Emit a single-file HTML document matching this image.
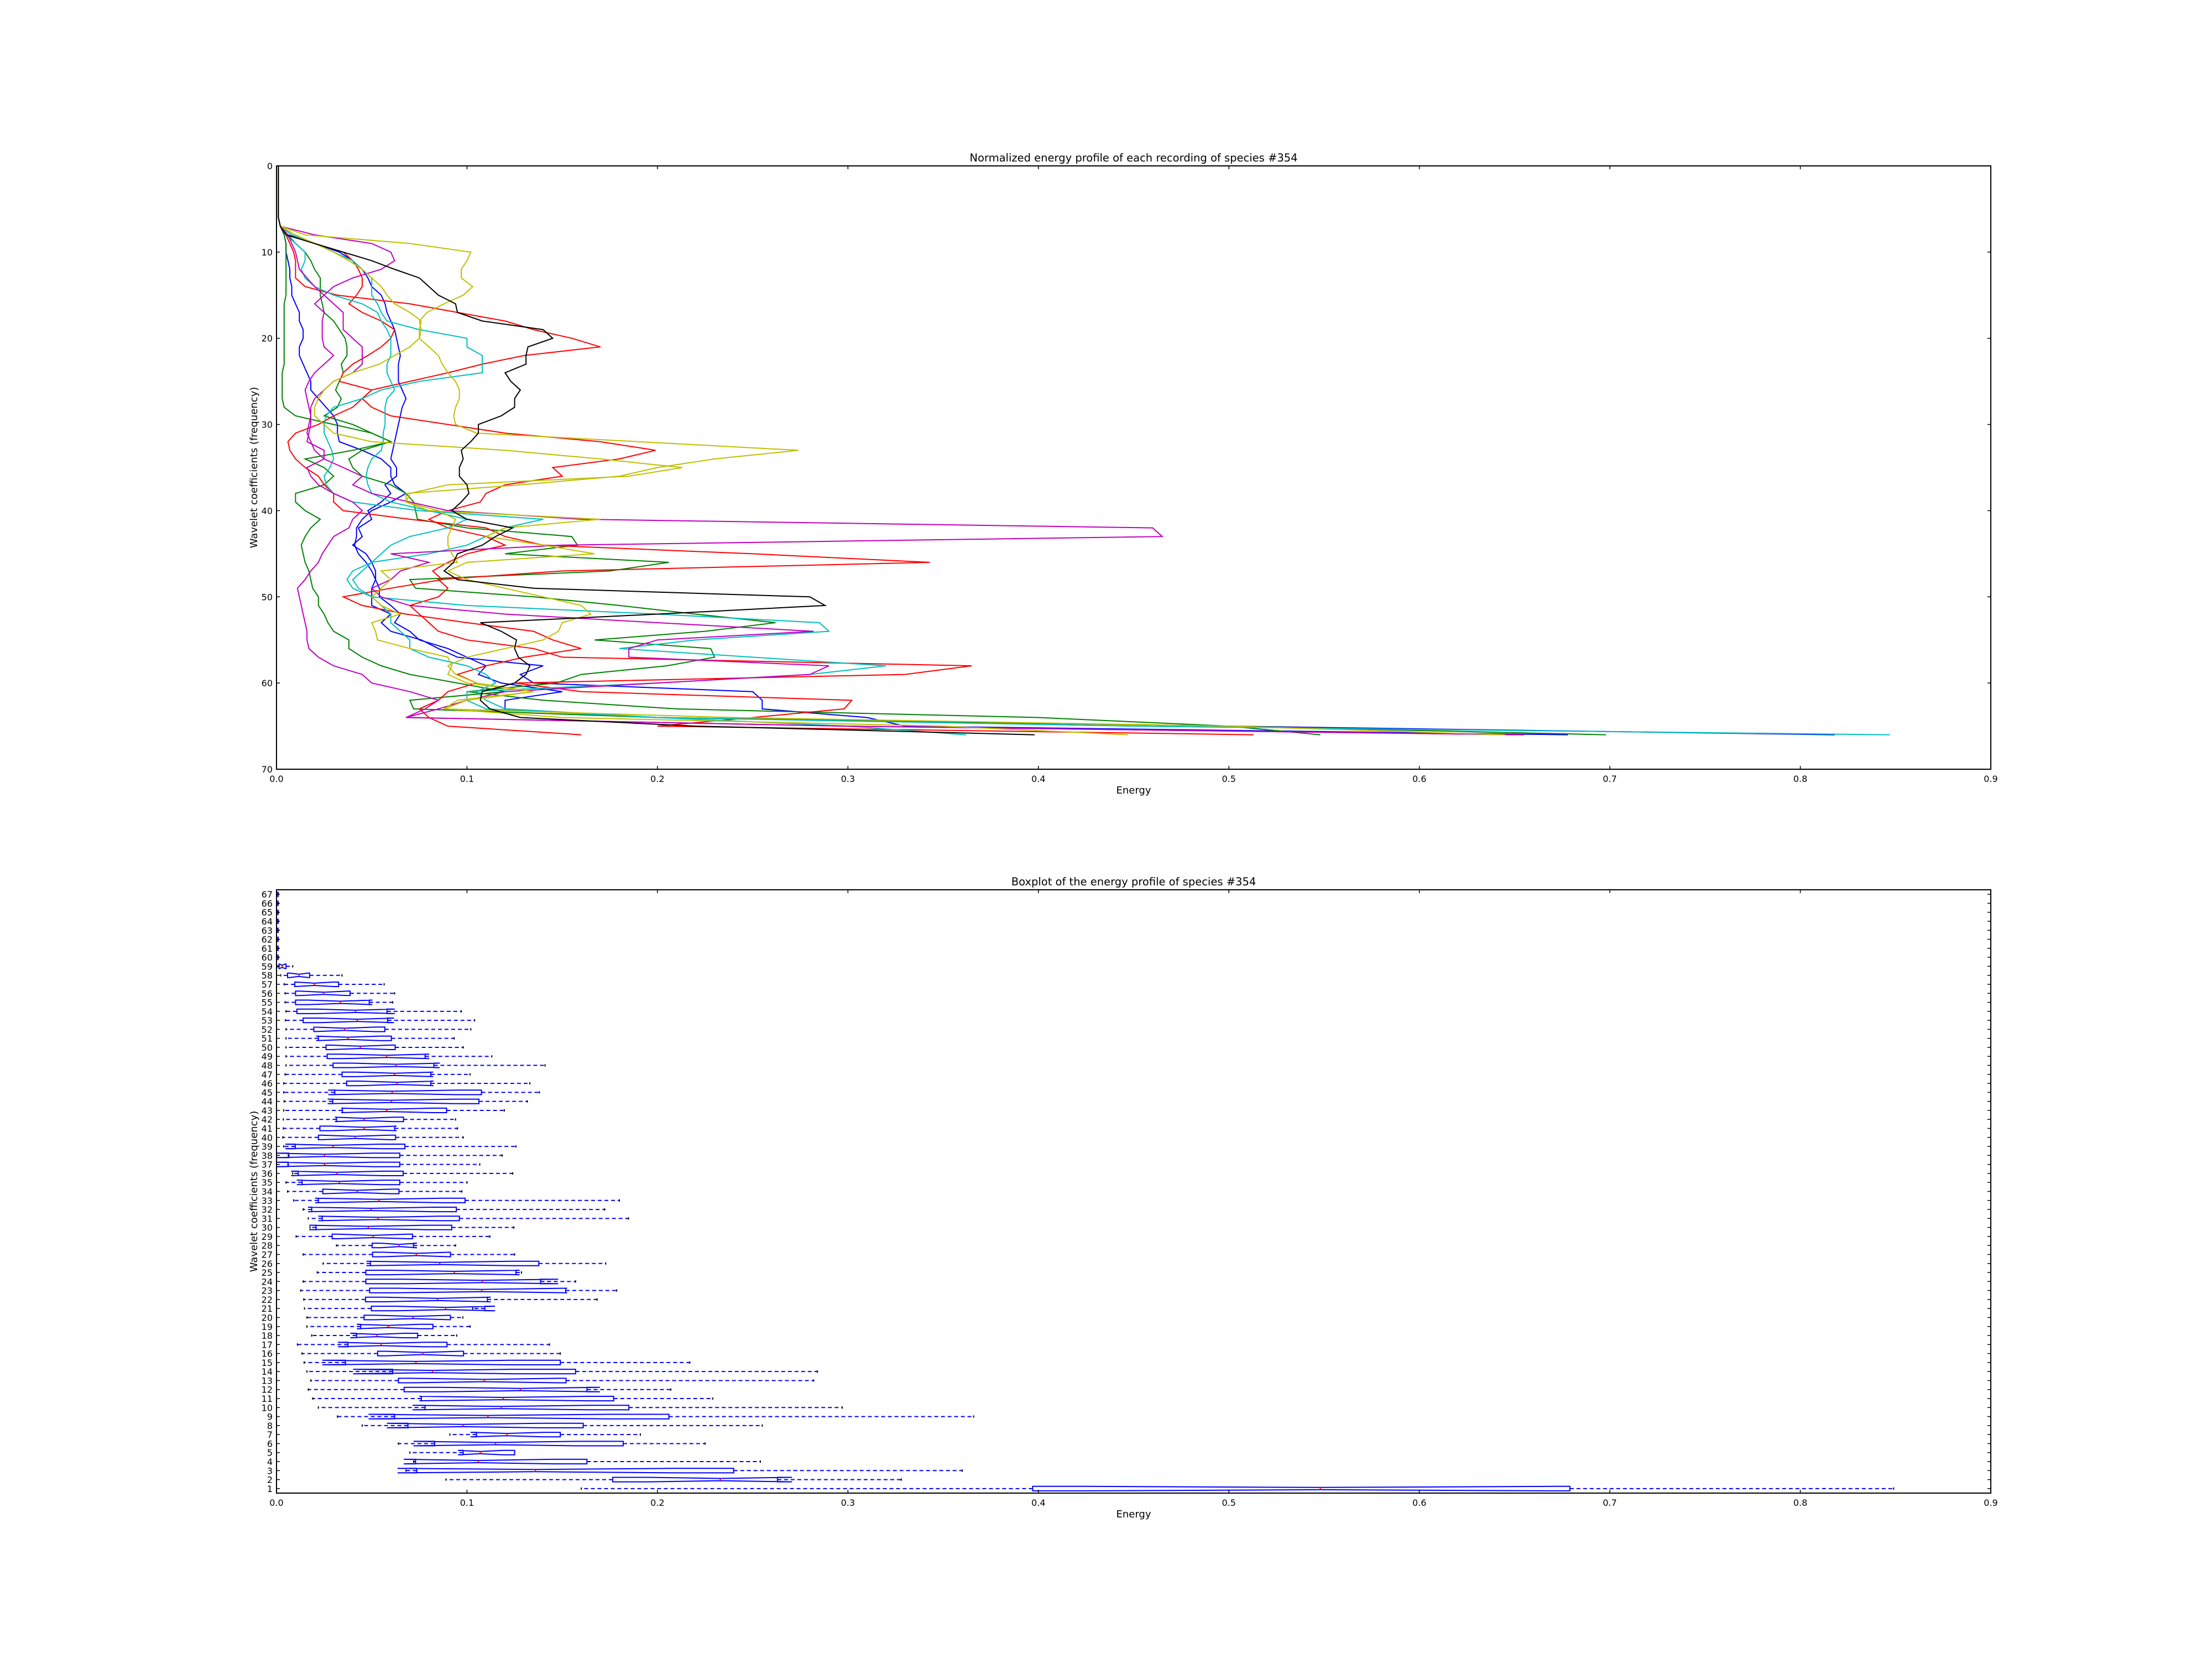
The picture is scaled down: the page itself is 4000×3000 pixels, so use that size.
<!DOCTYPE html>
<html><head><meta charset="utf-8"><style>
html,body{margin:0;padding:0;background:#fff;}
svg{display:block;font-family:"DejaVu Sans","Liberation Sans",sans-serif;}
</style></head><body>
<svg id="fig" width="4000" height="3000" viewBox="0 0 4000 3000" xmlns="http://www.w3.org/2000/svg">
<rect width="4000" height="3000" fill="#fff"/>
<g id="top"></g>
<g id="bot"></g>
</svg>
<script>
// ---------- Top chart data ----------
const lineColors = ['#0000ff','#0000ff','#008000','#008000','#ff0000','#ff0000','#00bfbf','#00bfbf','#bf00bf','#bf00bf','#bfbf00','#bfbf00','#000000'];
const seriesNames = ['blue-1','blue-2','green-1','green-2','red-1','red-2','cyan-1','cyan-2','magenta-1','magenta-2','yellow-1','yellow-2','black-1'];
const pre = [.001,.001,.001,.001,.001,.001,.001,.002];
const b1 = pre.concat([.004,.005,.005,.006,.007,.007,.008,.008,.01,.012,.012,.014,.014,.012,.012,.014,.016,.018,.018,.022,.026,.03,.032,.032,.033,.045,.055,.06,.06,.062,.068,.06,.05,.045,.042,.042,.041,.043,.047,.05,.052,.054,.054,.06,.065,.062,.07,.075,.09,.1,.11,.106,.118,.15,.12,.12,.2,.5,.818]);
const b2 = pre.concat([.006,.02,.033,.04,.045,.048,.05,.055,.057,.058,.06,.062,.063,.064,.065,.064,.064,.064,.066,.068,.066,.065,.064,.063,.062,.061,.06,.063,.063,.057,.06,.055,.048,.05,.043,.045,.04,.047,.05,.052,.052,.05,.05,.05,.06,.055,.06,.076,.085,.095,.14,.128,.135,.25,.255,.255,.31,.33,.678]);
const g1 = pre.concat([.004,.005,.005,.005,.005,.005,.005,.005,.004,.004,.004,.004,.004,.004,.004,.004,.003,.003,.003,.003,.004,.01,.03,.05,.06,.04,.015,.025,.03,.025,.01,.01,.015,.023,.018,.015,.013,.014,.015,.017,.018,.019,.022,.022,.025,.027,.03,.038,.038,.045,.055,.07,.095,.12,.07,.072,.2,.5,.698]);
const g2 = pre.concat([.006,.01,.015,.018,.02,.023,.023,.023,.024,.025,.03,.033,.036,.037,.037,.034,.035,.033,.031,.034,.032,.025,.04,.05,.06,.045,.038,.04,.045,.06,.068,.072,.073,.074,.1,.155,.158,.12,.206,.175,.07,.073,.135,.18,.22,.262,.225,.167,.228,.23,.205,.16,.147,.1,.14,.21,.4,.5,.548]);
const r1 = pre.concat([.005,.007,.009,.01,.01,.01,.015,.032,.07,.095,.12,.135,.155,.17,.13,.108,.09,.07,.05,.045,.04,.03,.022,.01,.006,.007,.01,.015,.022,.025,.03,.03,.035,.07,.11,.12,.14,.25,.343,.15,.085,.09,.085,.07,.075,.08,.085,.1,.135,.15,.365,.33,.125,.16,.302,.298,.25,.2,.513]);
const r2 = pre.concat([.008,.02,.035,.04,.043,.045,.045,.042,.038,.045,.055,.062,.06,.055,.048,.04,.035,.033,.05,.045,.05,.06,.09,.12,.17,.199,.18,.145,.15,.12,.11,.107,.09,.08,.09,.11,.12,.1,.09,.082,.087,.06,.035,.045,.068,.1,.135,.145,.16,.13,.11,.095,.105,.09,.085,.075,.08,.09,.16]);
const c1 = pre.concat([.008,.02,.03,.04,.045,.05,.05,.05,.053,.055,.058,.075,.1,.1,.108,.108,.108,.075,.055,.045,.03,.026,.025,.025,.027,.029,.03,.028,.025,.026,.03,.04,.075,.14,.12,.11,.1,.08,.05,.04,.037,.04,.05,.1,.2,.285,.29,.22,.18,.25,.32,.28,.2,.1,.1,.11,.2,.45,.847]);
const c2 = pre.concat([.005,.01,.015,.015,.013,.015,.02,.03,.045,.053,.055,.058,.06,.06,.06,.058,.058,.06,.062,.058,.057,.057,.057,.056,.056,.055,.05,.048,.047,.048,.05,.06,.08,.1,.09,.07,.06,.055,.05,.045,.04,.043,.05,.055,.06,.06,.065,.07,.07,.08,.1,.11,.115,.105,.11,.12,.2,.3,.362]);
const m1 = pre.concat([.02,.05,.06,.062,.055,.04,.03,.025,.02,.025,.024,.024,.024,.025,.03,.025,.02,.017,.015,.016,.017,.018,.017,.016,.018,.02,.025,.035,.045,.04,.05,.07,.09,.16,.46,.465,.15,.06,.08,.065,.06,.05,.055,.07,.12,.2,.282,.2,.185,.185,.29,.28,.2,.12,.1,.085,.068,.3,.655]);
const m2 = pre.concat([.006,.008,.01,.011,.012,.016,.02,.025,.03,.035,.035,.035,.04,.045,.045,.045,.04,.03,.025,.02,.018,.018,.018,.017,.016,.025,.025,.016,.018,.022,.03,.04,.045,.04,.038,.03,.027,.024,.022,.018,.015,.011,.012,.013,.014,.015,.016,.016,.017,.022,.03,.045,.05,.07,.085,.078,.068,.3,.65]);
const y1 = pre.concat([.015,.07,.102,.1,.097,.097,.103,.098,.088,.079,.075,.076,.075,.08,.085,.087,.09,.094,.096,.096,.094,.093,.094,.105,.19,.274,.23,.2,.18,.128,.068,.068,.08,.17,.12,.11,.14,.167,.1,.09,.1,.12,.14,.16,.165,.15,.148,.14,.12,.1,.09,.094,.105,.135,.1,.088,.15,.35,.447]);
const y2 = pre.concat([.01,.02,.03,.038,.045,.05,.055,.058,.062,.07,.076,.075,.075,.07,.062,.054,.04,.03,.025,.022,.02,.02,.025,.03,.05,.12,.17,.213,.185,.09,.07,.068,.085,.094,.092,.09,.09,.092,.095,.055,.06,.055,.05,.055,.065,.05,.052,.053,.07,.09,.092,.09,.1,.135,.095,.088,.239,.5,.645]);
const k1 = pre.concat([.005,.02,.035,.05,.062,.075,.08,.085,.094,.095,.108,.14,.145,.132,.131,.131,.12,.123,.128,.125,.125,.118,.106,.106,.102,.097,.098,.096,.096,.1,.101,.097,.092,.1,.124,.115,.108,.095,.093,.088,.095,.135,.28,.288,.2,.107,.118,.126,.125,.127,.133,.131,.125,.108,.107,.112,.128,.22,.398]);
const allSeries = [b1,b2,g1,g2,r1,r2,c1,c2,m1,m2,y1,y2,k1];
const xTickVals = [0,0.1,0.2,0.3,0.4,0.5,0.6,0.7,0.8,0.9];
const xTickLabels = ['0.0','0.1','0.2','0.3','0.4','0.5','0.6','0.7','0.8','0.9'];
const topYTicks = [0,10,20,30,40,50,60,70];

// ---------- Boxplot data (rows 1..67) ----------
const rows = Array.from({length:67},(_,i)=>i+1);
const wLo = [.16,.089,.068,.072,.07,.064,.091,.045,.032,.022,.019,.0167,.018,.016,.0145,.0134,.011,.0185,.016,.016,.0147,.0143,.0127,.014,.0214,.0245,.014,.0315,.0103,.0176,.0167,.014,.009,.0058,.005,.0085,.006,.0062,.0038,.0033,.0036,.0036,.0038,.004,.0038,.0038,.0045,.005,.005,.005,.005,.005,.0047,.005,.0045,.0045,.004,.0022,.0005,0,0,0,0,0,0,0,0];
const q1 = [.397,.1765,.0736,.073,.098,.083,.105,.069,.062,.078,.076,.067,.064,.061,.0362,.0531,.0375,.042,.0442,.046,.0498,.0467,.0489,.0469,.0469,.0493,.0504,.0502,.0292,.0208,.024,.0185,.022,.0243,.0134,.0114,.0062,.0065,.0098,.022,.0228,.0315,.0346,.0295,.0306,.0368,.0344,.0297,.0266,.026,.022,.0196,.014,.0107,.01,.01,.0096,.0058,.0013,0,0,0,0,0,0,0,0];
const med = [.548,.233,.136,.106,.107,.115,.121,.098,.111,.118,.119,.128,.109,.082,.0732,.0768,.0549,.0527,.0587,.0717,.0888,.0846,.1078,.108,.0933,.0857,.0734,.0643,.0507,.0482,.0533,.0496,.0538,.0424,.033,.0317,.0252,.0252,.0297,.0413,.046,.046,.0578,.0603,.0607,.0632,.062,.0627,.0578,.044,.0375,.0357,.0424,.0415,.0335,.0248,.0199,.0118,.003,.0004,.0004,.0004,.0004,.0004,.0004,.0004,.0004];
const q3 = [.679,.263,.24,.163,.125,.182,.149,.161,.206,.185,.177,.163,.152,.157,.149,.0982,.0895,.0741,.0821,.0913,.1094,.1107,.1518,.1386,.1257,.1377,.0913,.0719,.0714,.092,.096,.0944,.099,.0643,.0647,.0665,.0647,.0647,.0674,.0625,.062,.0667,.0893,.1063,.1076,.081,.081,.0826,.078,.0623,.0603,.0569,.0583,.058,.0487,.0386,.0326,.0174,.005,.0008,.0008,.0008,.0008,.0008,.0008,.0008,.0008];
const wHi = [.849,.328,.36,.254,.125,.225,.191,.255,.366,.297,.229,.207,.282,.284,.217,.149,.1433,.0946,.1016,.0978,.103,.1683,.1786,.157,.1286,.1728,.125,.094,.112,.1246,.1848,.1723,.18,.0973,.1,.124,.1067,.1185,.1257,.098,.095,.094,.1196,.1317,.138,.133,.1016,.141,.113,.098,.0933,.102,.104,.097,.061,.062,.0565,.0344,.0085,.001,.001,.001,.001,.001,.001,.001,.001];
const sampleN = 13;

const NS='http://www.w3.org/2000/svg';
function mk(tag, parent, attrs){const e=document.createElementNS(NS,tag);for(const k in attrs)e.setAttribute(k,attrs[k]);parent.appendChild(e);return e;}
const FS=16, LFS=18, TFS=19.5;

function axesFrame(g, L, T, R, B, xs, ys, yticks, ylabels, title, name){
  xTickVals.forEach((v,i)=>{
    const x=xs(v);
    const t1=mk('line',g,{x1:x,x2:x,y1:B,y2:B-6,stroke:'#000','stroke-width':1.5});
    
    
    mk('line',g,{x1:x,x2:x,y1:T,y2:T+6,stroke:'#000','stroke-width':1.5});
    const tx=mk('text',g,{x:x,y:B+23,'font-size':FS,'text-anchor':'middle',fill:'#000'});
    tx.textContent=xTickLabels[i];
    
    
  });
  yticks.forEach((v,i)=>{
    const y=ys(v);
    const t1=mk('line',g,{x1:L,x2:L+6,y1:y,y2:y,stroke:'#000','stroke-width':1.5});
    
    
    mk('line',g,{x1:R,x2:R-6,y1:y,y2:y,stroke:'#000','stroke-width':1.5});
    const tx=mk('text',g,{x:L-7,y:y+6,'font-size':FS,'text-anchor':'end',fill:'#000'});
    tx.textContent=ylabels[i];
    
    
  });
  const fr=mk('rect',g,{x:L,y:T,width:R-L,height:B-T,fill:'none',stroke:'#000','stroke-width':2});
  
  
  const tt=mk('text',g,{x:(L+R)/2,y:T-8,'font-size':TFS,'text-anchor':'middle',fill:'#000'});
  tt.textContent=title;
  
  
  const xl=mk('text',g,{x:(L+R)/2,y:B+44,'font-size':LFS,'text-anchor':'middle',fill:'#000'});
  xl.textContent='Energy';
  
  
  const yl=mk('text',g,{x:0,y:0,'font-size':LFS,'text-anchor':'middle',fill:'#000',transform:`translate(${L-35},${(T+B)/2}) rotate(-90)`});
  yl.textContent='Wavelet coefficients (frequency)';
  
  
}

// ---------- Top chart ----------
(function(){
  const g=document.getElementById('top');
  const L=500,R=3600,T=300,B=1391;
  const xs=v=>L+(v/0.9)*(R-L);
  const ys=c=>T+(c/70)*(B-T);
  const plot=mk('g',g,{});
  
  
  allSeries.forEach((s,si)=>{
    const pts=s.map((v,i)=>xs(v).toFixed(1)+','+ys(i).toFixed(1)).join(' ');
    const pl=mk('polyline',plot,{points:pts,fill:'none',stroke:lineColors[si],'stroke-width':2,'stroke-linejoin':'miter'});
    
    
  });
  axesFrame(g,L,T,R,B,xs,ys,topYTicks,topYTicks.map(String),'Normalized energy profile of each recording of species #354','top-chart');
})();

// ---------- Bottom chart ----------
(function(){
  const g=document.getElementById('bot');
  const L=500,R=3600,T=1609,B=2700;
  const xs=v=>L+(v/0.9)*(R-L);
  const ys=r=>B-((r-0.5)/67)*(B-T);
  const w=0.5;
  const plot=mk('g',g,{});
  
  
  rows.forEach((r,i)=>{
    const iqr=q3[i]-q1[i];
    const nh=1.57*iqr/Math.sqrt(sampleN);
    const nlo=med[i]-nh, nhi=med[i]+nh;
    const yc=ys(r), hb=(ys(r-w/2)-ys(r+w/2))/2, hq=hb/2;
    const bg=mk('g',plot,{});
    
    
    mk('line',bg,{x1:xs(q1[i]),x2:xs(wLo[i]),y1:yc,y2:yc,stroke:'#0000ff','stroke-width':2,'stroke-dasharray':'7,5'});
    mk('line',bg,{x1:xs(q3[i]),x2:xs(wHi[i]),y1:yc,y2:yc,stroke:'#0000ff','stroke-width':2,'stroke-dasharray':'7,5'});
    mk('line',bg,{x1:xs(wLo[i]),x2:xs(wLo[i]),y1:yc-hq,y2:yc+hq,stroke:'#000','stroke-width':2});
    mk('line',bg,{x1:xs(wHi[i]),x2:xs(wHi[i]),y1:yc-hq,y2:yc+hq,stroke:'#000','stroke-width':2});
    const P=[[q1[i],-hb],[nlo,-hb],[med[i],-hq],[nhi,-hb],[q3[i],-hb],[q3[i],hb],[nhi,hb],[med[i],hq],[nlo,hb],[q1[i],hb]];
    const d='M'+P.map(p=>xs(p[0]).toFixed(1)+','+(yc+p[1]).toFixed(1)).join(' L')+' Z';
    mk('path',bg,{d:d,fill:'none',stroke:'#0000ff','stroke-width':2});
    mk('line',bg,{x1:xs(med[i]),x2:xs(med[i]),y1:yc-hq,y2:yc+hq,stroke:'#ff0000','stroke-width':2});
  });
  axesFrame(g,L,T,R,B,xs,ys,rows,rows.map(String),'Boxplot of the energy profile of species #354','bottom-chart');
})();
</script>
</body></html>
